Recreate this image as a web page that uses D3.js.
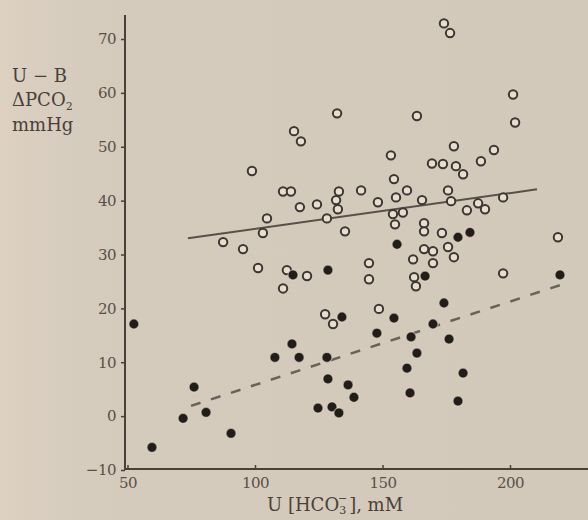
<!DOCTYPE html>
<html><head><meta charset="utf-8">
<script src="https://cdn.jsdelivr.net/npm/d3@7"></script>
<style>html,body{margin:0;padding:0;background:#d5ccbd;}svg{display:block;}</style>
</head><body>
<script>
// Data (x = urine [HCO3-] mM, y = U-B ΔPCO2 mmHg)
const openX = [174.1,176.5,201.2,202.0,132.2,163.5,115.3,118.0,98.8,178.0,193.7,153.3,188.6,169.4,173.7,178.8,181.6,154.5,111.0,114.1,132.9,131.8,132.5,141.6,124.3,117.6,148.2,155.3,159.6,165.5,175.7,176.9,183.1,187.5,190.2,197.3,128.2,104.7,154.1,154.9,158.0,135.3,166.3,166.3,173.3,103.1,87.5,95.3,218.8,166.3,169.8,175.7,178.0,162.0,169.8,144.7,144.7,101.2,112.5,120.4,111.0,162.4,163.1,197.3,148.6,127.5,130.6];
const openY = [72.9,71.1,59.7,54.5,56.2,55.7,52.9,51.0,45.5,50.1,49.4,48.4,47.3,46.9,46.8,46.4,44.9,44.0,41.7,41.7,41.7,40.1,38.4,41.9,39.3,38.8,39.7,40.6,41.9,40.1,41.9,39.9,38.2,39.5,38.4,40.6,36.7,36.7,37.5,35.6,37.8,34.3,35.8,34.3,34.0,34.0,32.3,31.0,33.2,31.0,30.6,31.4,29.5,29.1,28.4,28.4,25.4,27.5,27.1,26.0,23.7,25.8,24.1,26.5,19.9,18.9,17.1];
const filledX = [52.5,59.6,71.8,76.1,80.8,90.6,107.8,114.5,117.3,114.9,128.6,134.1,128.2,128.6,124.7,130.2,132.9,136.5,138.8,147.8,154.5,155.7,159.6,160.8,161.2,163.5,166.7,169.8,174.1,176.1,179.6,184.3,181.6,179.6,219.6];
const filledY = [17.1,-5.8,-0.4,5.4,0.7,-3.2,10.9,13.4,10.9,26.2,27.1,18.4,10.9,6.9,1.5,1.7,0.6,5.8,3.5,15.4,18.2,31.9,8.9,4.3,14.7,11.7,26.0,17.1,21.0,14.3,33.2,34.1,8.0,2.8,26.2];
const solidLineX = [73.7,210.6];
const solidLineY = [33.0,42.1];
const dashedLineX = [74.9,219.6];
const dashedLineY = [1.9,24.3];
const xTicks = [50,100,150,200];
const yTicks = [-10,0,10,20,30,40,50,60,70];

const W = 588, H = 520;
const svg = d3.select("body").append("svg").attr("width", W).attr("height", H);
const defs = svg.append("defs");
const g = defs.append("linearGradient").attr("id","bg").attr("x1","0").attr("x2","1").attr("y1","0").attr("y2","0");
g.append("stop").attr("offset","0").attr("stop-color","#ded1c2");
g.append("stop").attr("offset","0.05").attr("stop-color","#d9cebf");
g.append("stop").attr("offset","0.2").attr("stop-color","#d4cbbc");
g.append("stop").attr("offset","1").attr("stop-color","#d2c9ba");
svg.append("rect").attr("width",W).attr("height",H).attr("fill","url(#bg)");

const x = d3.scaleLinear().domain([50,200]).range([127.5,510]);
const y = d3.scaleLinear().domain([-10,70]).range([470,39]);
const ink = "#4a4038";
const serif = "'DejaVu Serif','Liberation Serif',serif";

// axes lines
svg.append("line").attr("x1",125).attr("x2",125).attr("y1",15).attr("y2",470).attr("stroke",ink).attr("stroke-width",2);
svg.append("line").attr("x1",124).attr("x2",W).attr("y1",469).attr("y2",469).attr("stroke",ink).attr("stroke-width",2);

const yAxis = d3.axisLeft(y).tickValues(yTicks).tickSize(4).tickPadding(5).tickFormat(d => d < 0 ? "\u2212" + Math.abs(d) : d);
const ya = svg.append("g").attr("transform","translate(125,0)").call(yAxis);
ya.select(".domain").remove();
ya.selectAll("line").attr("stroke",ink).attr("stroke-width",1.5);
ya.selectAll("text").attr("fill","#5a5048").style("font-family",serif).style("font-size","15px").style("letter-spacing","-0.5px");

const xAxis = d3.axisBottom(x).tickValues(xTicks).tickSize(-4).tickPadding(8);
const xa = svg.append("g").attr("transform","translate(0,469)").call(xAxis);
xa.select(".domain").remove();
xa.selectAll("line").attr("stroke",ink).attr("stroke-width",1.5);
xa.selectAll("text").attr("fill","#5a5048").style("font-family",serif).style("font-size","15px").style("letter-spacing","-0.5px");

// titles
const yt = svg.append("text").attr("fill","#4a4038").style("font-family",serif).style("font-size","18px");
yt.append("tspan").attr("x",12).attr("y",82).text("U \u2212 B");
const t2 = yt.append("tspan").attr("x",12).attr("y",106).text("\u0394PCO");
t2.append("tspan").style("font-size","11px").attr("dy",4).text("2");
yt.append("tspan").attr("x",12).attr("y",131).text("mmHg");

const xt = svg.append("text").attr("x",267).attr("y",511).attr("fill","#4a4038").style("font-family",serif).style("font-size","18px");
xt.append("tspan").text("U [HCO");
const sub3 = xt.append("tspan").style("font-size","11px").attr("dy",3).text("3");
xt.append("tspan").attr("dy",-3).attr("dx",3).text("], mM");
const bb = sub3.node().getBBox();
svg.append("text").attr("x", bb.x + bb.width/2).attr("y", 502).attr("text-anchor","middle")
  .attr("fill","#4a4038").style("font-family",serif).style("font-size","11px").text("\u2212");

// regression lines
svg.append("line").attr("x1",x(solidLineX[0])).attr("y1",y(solidLineY[0])).attr("x2",x(solidLineX[1])).attr("y2",y(solidLineY[1]))
  .attr("stroke","#5a5049").attr("stroke-width",2);
svg.append("line").attr("x1",x(dashedLineX[0])).attr("y1",y(dashedLineY[0])).attr("x2",x(dashedLineX[1])).attr("y2",y(dashedLineY[1]))
  .attr("stroke","#6a625a").attr("stroke-width",2.5).attr("stroke-dasharray","10,11");

// points
const openPts = openX.map((v,i)=>[v,openY[i]]);
const filledPts = filledX.map((v,i)=>[v,filledY[i]]);
svg.append("g").selectAll("circle").data(openPts).join("circle")
  .attr("cx",d=>x(d[0])).attr("cy",d=>y(d[1])).attr("r",4.2)
  .attr("fill","#e6ded0").attr("stroke","#3e3630").attr("stroke-width",2);
svg.append("g").selectAll("circle").data(filledPts).join("circle")
  .attr("cx",d=>x(d[0])).attr("cy",d=>y(d[1])).attr("r",5)
  .attr("fill","#231d1a").attr("stroke","#e2dacd").attr("stroke-width",1.2).attr("stroke-opacity",0.6);
</script>
</body></html>
